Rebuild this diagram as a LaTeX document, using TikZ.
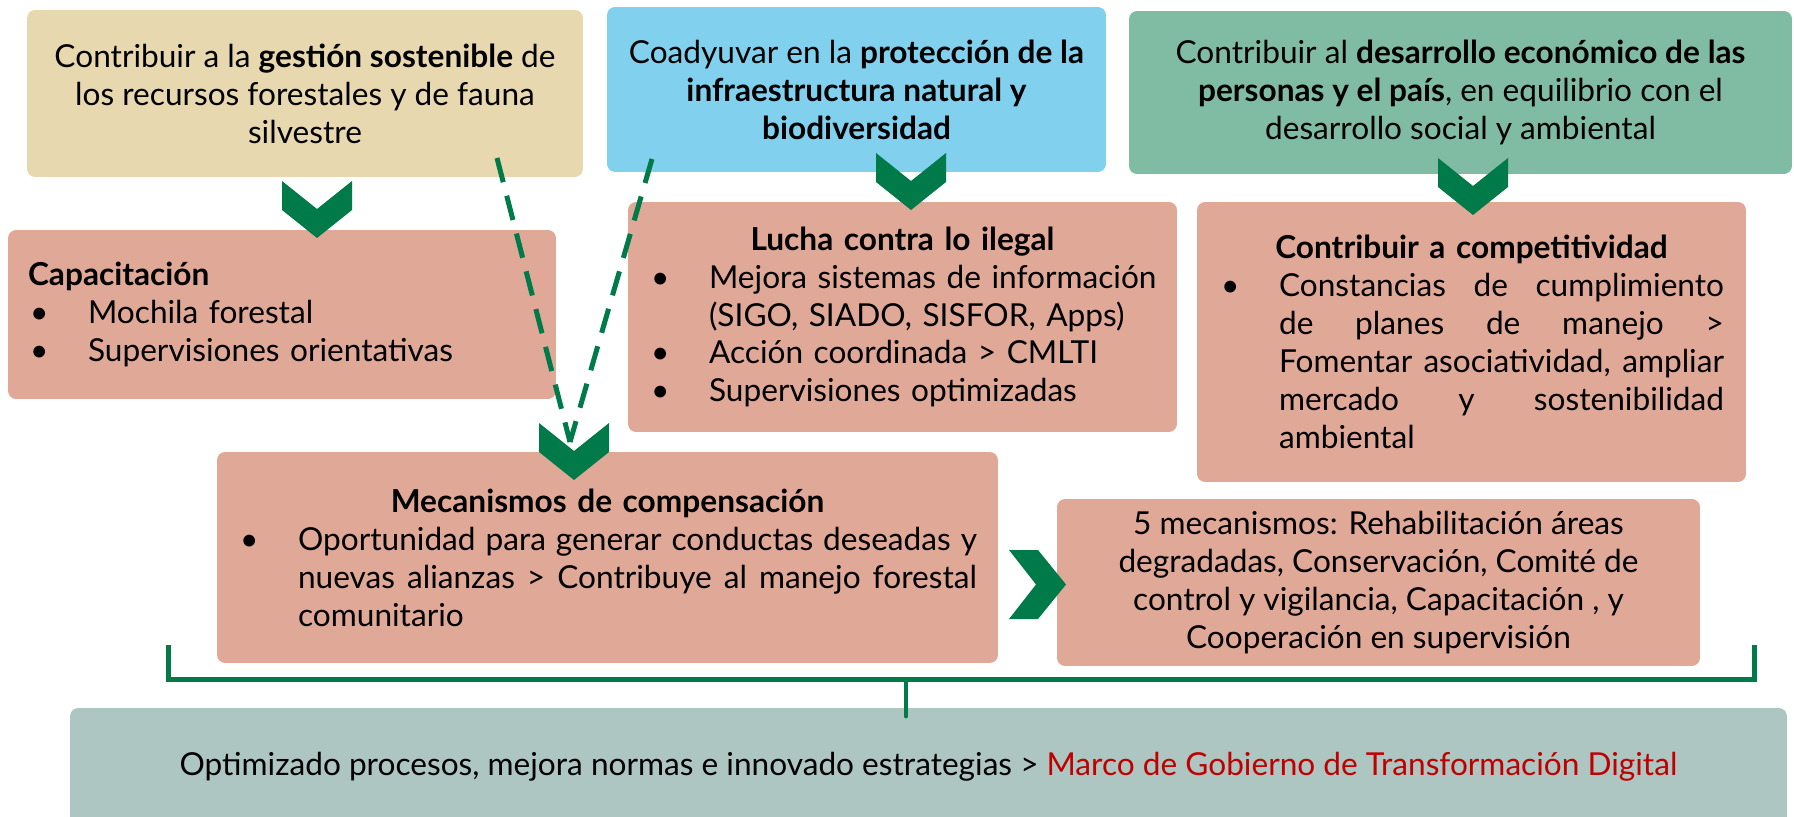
\documentclass[tikz,border=0pt]{standalone}
\usepackage{fontspec}
\setmainfont{Lato}
\usepackage{xcolor}
\definecolor{beige}{RGB}{232,216,176}
\definecolor{sky}{RGB}{128,208,238}
\definecolor{sage}{RGB}{128,187,163}
\definecolor{salmon}{RGB}{224,168,150}
\definecolor{greyteal}{RGB}{173,198,193}
\definecolor{forest}{RGB}{0,122,72}
\definecolor{alert}{RGB}{192,0,0}
\usepackage{tikz}
\usetikzlibrary{positioning,calc}
\tikzstyle{box} = [
    rectangle, rounded corners=0.16cm,
    inner sep=0pt,
    font=\fontsize{18}{21.6}\selectfont,
]
\tikzstyle{goal} = [
    box,
    align=center,
]
\tikzstyle{action} = [
    box,
    fill=salmon,
    align=left,
]
\tikzstyle{result} = [
    box,
    fill=greyteal,
    align=center,
]
\tikzstyle{chev} = [fill=forest]
\tikzstyle{bracket} = [draw=forest, line width=0.1cm]
\tikzstyle{dashline} = [draw=forest, line width=0.1cm, dash pattern=on 0.5cm off 0.28cm]
\newcommand{\blt}{\makebox[1.2cm][l]{\hspace{0.04cm}\textbullet}}
\newcommand{\hng}{\hspace*{1.2cm}}
\newcommand{\jl}[2]{\makebox[#1][s]{\spaceskip=.3333em plus 1fil minus .1em\relax #2}}

\begin{document}
\begin{tikzpicture}[x=0.02cm, y=-0.02cm]
    \useasboundingbox (0,0) rectangle (1794,817);

    % goals
    \node (goal1) at (305,93.5) [goal, fill=beige, minimum width=11.12cm, minimum height=3.34cm]
        {Contribuir a la \textbf{gestión sostenible} de\\los recursos forestales y de fauna\\silvestre};
    \node (goal2) at (856.5,89.5) [goal, fill=sky, minimum width=9.98cm, minimum height=3.3cm]
        {Coadyuvar en la \textbf{protección de la}\\\textbf{infraestructura natural y}\\\textbf{biodiversidad}};
    \node (goal3) at (1460.5,92.5) [goal, fill=sage, minimum width=13.26cm, minimum height=3.26cm]
        {Contribuir al \textbf{desarrollo económico de las}\\\textbf{personas y el país}, en equilibrio con el\\desarrollo social y ambiental};

    % actions
    \node (capac) at (282,314.5) [action, minimum width=10.96cm, minimum height=3.38cm, text width=10.16cm]
        {\textbf{Capacitación}\\\blt Mochila forestal\\\blt Supervisiones orientativas};
    \node (lucha) at (902.5,317) [action, minimum width=10.98cm, minimum height=4.6cm, text width=10.14cm]
        {\makebox[\hsize]{\textbf{Lucha contra lo ilegal}}\\
         \blt\mbox{Mejora sistemas de información}\\
         \hng (SIGO, SIADO, SISFOR, Apps)\\
         \blt Acción coordinada > CMLTI\\
         \blt Supervisiones optimizadas};
    \node (compet) at (1471.5,342) [action, minimum width=10.98cm, minimum height=5.6cm, text width=10.1cm]
        {\makebox[\hsize]{\textbf{Contribuir a competitividad}}\\
         \blt\jl{8.9cm}{Constancias de cumplimiento}\\
         \hng\jl{8.9cm}{de planes de manejo >}\\
         \hng\jl{8.9cm}{Fomentar asociatividad, ampliar}\\
         \hng\jl{8.9cm}{mercado y sostenibilidad}\\
         \hng ambiental};
    \node (mecan) at (607.5,557.5) [action, minimum width=15.62cm, minimum height=4.22cm, text width=14.78cm]
        {\makebox[\hsize]{\textbf{Mecanismos de compensación}}\\
         \blt\jl{13.58cm}{Oportunidad para generar conductas deseadas y}\\
         \hng\jl{13.58cm}{nuevas alianzas > Contribuye al manejo forestal}\\
         \hng comunitario};
    \node (cinco) at (1378.5,582.5) [action, align=center, minimum width=12.86cm, minimum height=3.34cm]
        {5 mecanismos: Rehabilitación áreas\\degradadas, Conservación, Comité de\\control y vigilancia, Capacitación , y\\Cooperación en supervisión};
    \node (result) at (928.5,767) [result, minimum width=34.34cm, minimum height=2.36cm]
        {Optimizado procesos, mejora normas e innovado estrategias > \textcolor{alert}{Marco de Gobierno de Transformación Digital}};

    % dashed links
    \coordinate (d1) at (497,158);
    \coordinate (d2) at (652,159);
    \coordinate (dm) at (570,442);
    \draw [dashline] (d1) -- (dm);
    \draw [dashline] (d2) -- (dm);

    % chevrons
    \foreach \cx/\ty in {317/181, 911/153, 1473/158, 574/423} {
        \fill [chev] (\cx-35,\ty) -- (\cx,\ty+28) -- (\cx+35,\ty) -- (\cx+35,\ty+29)
            -- (\cx,\ty+57) -- (\cx-35,\ty+29) -- cycle;
    }
    \fill [chev] (1009,550) -- (1038,550) -- (1066,584.5) -- (1038,619) -- (1009,619) -- (1036,584.5) -- cycle;

    % bracket
    \coordinate (brL) at (168,645);
    \coordinate (brR) at (1754,645);
    \coordinate (brM) at (906,679);
    \draw [bracket] (brL) -- ++(0,34) -| (brR);
    \draw [bracket, line width=0.07cm, line cap=round, shorten >=-0.18cm] (brM) -- (brM |- result.north);

\end{tikzpicture}
\end{document}
